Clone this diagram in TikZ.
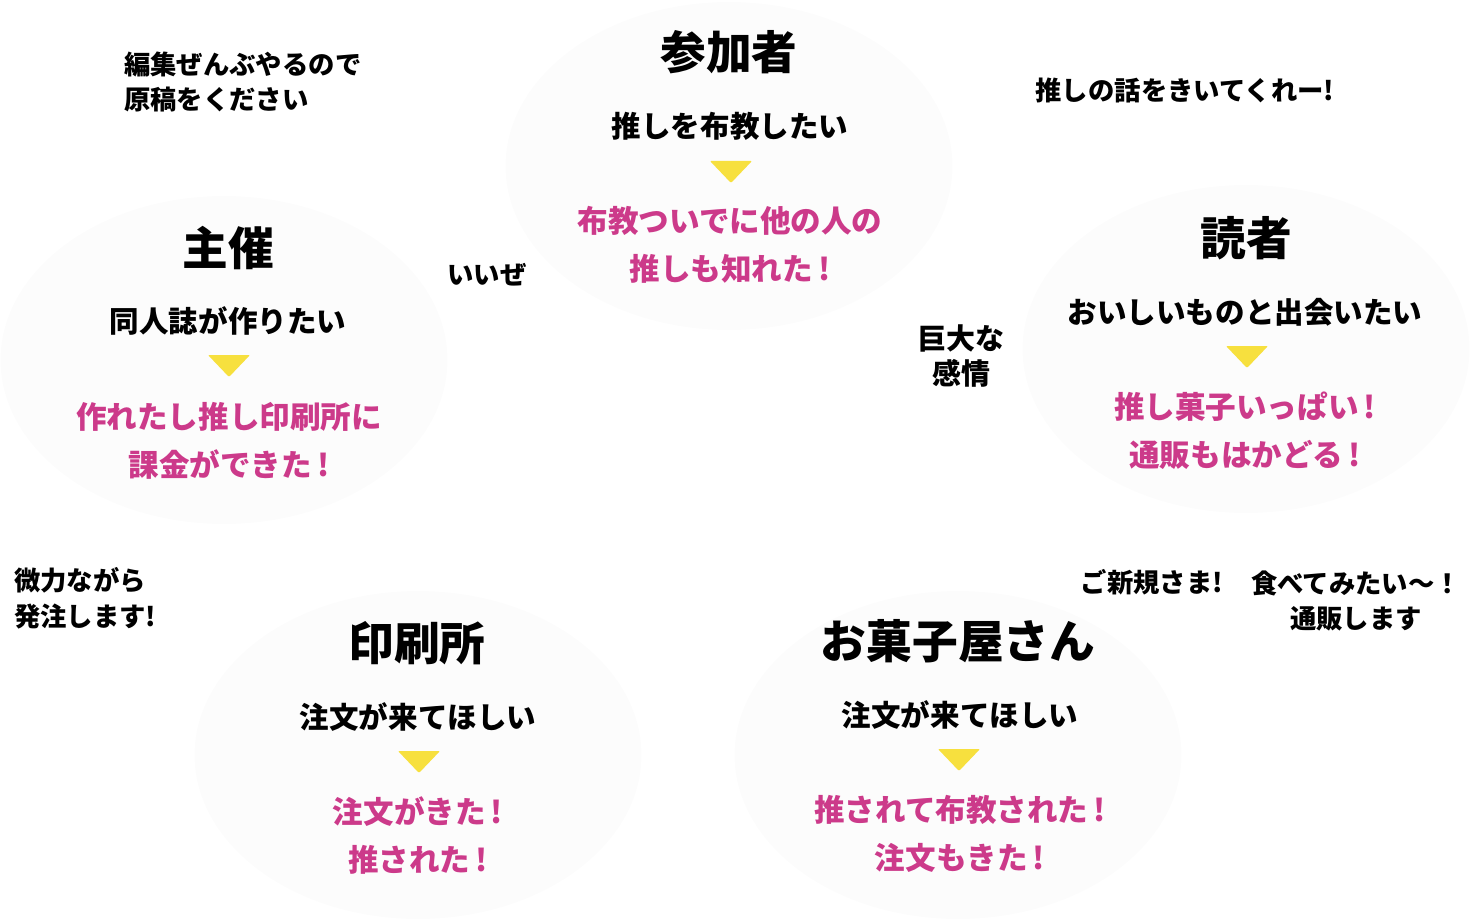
\documentclass[tikz,border=0pt]{standalone}
\usepackage{fontspec}
\setmainfont{Noto Sans CJK JP}
\usetikzlibrary{shapes.geometric,calc}
\definecolor{Bubble}{HTML}{FCFCFC}
\definecolor{Berry}{HTML}{CC3A8A}
\definecolor{Lemon}{HTML}{F7E03E}

\tikzset{
  bubble/.style={ellipse,fill=Bubble,inner sep=0pt,minimum width=8.94cm,minimum height=6.56cm},
  role/.style={font=\bfseries\fontsize{26}{30}\selectfont},
  wish/.style={font=\bfseries\fontsize{16.8}{20}\selectfont},
  gain/.style={font=\bfseries\fontsize{17.4}{20}\selectfont,text=Berry},
  voice/.style={font=\bfseries\fontsize{15}{20.4}\selectfont},
  tri/.style={fill=Lemon,rounded corners=0.6pt},
}

\begin{document}
\begin{tikzpicture}[x=0.02cm,y=-0.02cm]
        \useasboundingbox (0,0) rectangle (1470,922);

        % bubbles
        \node[bubble] (sanka) at (729,166) {};
        \node[bubble] (shusai) at (224,360) {};
        \node[bubble] (dokusha) at (1246,349) {};
        \node[bubble] (insatsu) at (418,755) {};
        \node[bubble] (okashi) at (958,755) {};

        % 参加者
        \node[role] (sankaT) at ($(sanka)+(0,-114)$) {参加者};
        \node[wish] (sankaW) at ($(sanka)+(1,-40)$) {推しを布教したい};
        \coordinate (sankaA) at ($(sanka)+(2,6)$);
        \fill[tri] ($(sankaA)+(-21,-11)$) -- ($(sankaA)+(21,-11)$) -- ($(sankaA)+(0,11)$) -- cycle;
        \node[gain] (sankaR1) at ($(sanka)+(1,55)$) {布教ついでに他の人の};
        \node[gain] (sankaR2) at ($(sanka)+(1,103)$) {推しも知れた\,!};

        % 主催
        \node[role] (shusaiT) at ($(shusai)+(4,-112)$) {主催};
        \node[wish] (shusaiW) at ($(shusai)+(4,-39)$) {同人誌が作りたい};
        \coordinate (shusaiA) at ($(shusai)+(5,6)$);
        \fill[tri] ($(shusaiA)+(-21,-11)$) -- ($(shusaiA)+(21,-11)$) -- ($(shusaiA)+(0,11)$) -- cycle;
        \node[gain] (shusaiR1) at ($(shusai)+(5,57)$) {作れたし推し印刷所に};
        \node[gain] (shusaiR2) at ($(shusai)+(5,105)$) {課金ができた\,!};

        % 読者
        \node[role] (dokushaT) at ($(dokusha)+(0,-111)$) {読者};
        \node[wish] (dokushaW) at ($(dokusha)+(-1,-37)$) {おいしいものと出会いたい};
        \coordinate (dokushaA) at ($(dokusha)+(1,8)$);
        \fill[tri] ($(dokushaA)+(-21,-11)$) -- ($(dokushaA)+(21,-11)$) -- ($(dokushaA)+(0,11)$) -- cycle;
        \node[gain] (dokushaR1) at ($(dokusha)+(-1,58)$) {推し菓子いっぱい\,!};
        \node[gain] (dokushaR2) at ($(dokusha)+(-1,106)$) {通販もはかどる\,!};

        % 印刷所
        \node[role] (insatsuT) at ($(insatsu)+(-1,-112)$) {印刷所};
        \node[wish] (insatsuW) at ($(insatsu)+(0,-38)$) {注文が来てほしい};
        \coordinate (insatsuA) at ($(insatsu)+(1,7)$);
        \fill[tri] ($(insatsuA)+(-21,-11)$) -- ($(insatsuA)+(21,-11)$) -- ($(insatsuA)+(0,11)$) -- cycle;
        \node[gain] (insatsuR1) at ($(insatsu)+(0,57)$) {注文がきた\,!};
        \node[gain] (insatsuR2) at ($(insatsu)+(0,105)$) {推された\,!};

        % お菓子屋さん
        \node[role] (okashiT) at ($(okashi)+(0,-114)$) {お菓子屋さん};
        \node[wish] (okashiW) at ($(okashi)+(2,-40)$) {注文が来てほしい};
        \coordinate (okashiA) at ($(okashi)+(1,5)$);
        \fill[tri] ($(okashiA)+(-21,-11)$) -- ($(okashiA)+(21,-11)$) -- ($(okashiA)+(0,11)$) -- cycle;
        \node[gain] (okashiR1) at ($(okashi)+(2,55)$) {推されて布教された\,!};
        \node[gain] (okashiR2) at ($(okashi)+(2,103)$) {注文もきた\,!};

        % voices
        \node[voice,anchor=west,align=left] (henshu) at (118,82) {編集ぜんぶやるので\\原稿をください};
        \node[voice] (oshibanashi) at (1185,90) {推しの話をきいてくれー!};
        \node[voice] (iize) at (487,275) {いいぜ};
        \node[voice,font=\bfseries\fontsize{16.5}{20.4}\selectfont,align=center] (kyodai) at (961,356) {巨大な\\感情};
        \node[voice,anchor=west,align=left] (biryoku) at (8,598) {微力ながら\\発注します!};
        \node[voice] (shinki) at (1152,582) {ご新規さま!};
        \node[voice,align=center] (tabete) at (1356,601) {食べてみたい〜！\\通販します};
      \end{tikzpicture}
\end{document}
